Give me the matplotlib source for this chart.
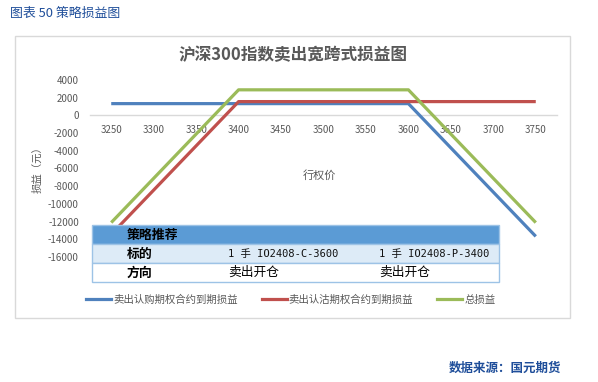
import matplotlib
matplotlib.use("Agg")
import matplotlib.pyplot as plt
from matplotlib.patches import Rectangle
from matplotlib.lines import Line2D

plt.rcParams['font.family'] = ['Noto Sans CJK SC', 'DejaVu Sans']

# data
strikes = [3250, 3300, 3350, 3400, 3450, 3500, 3550, 3600, 3650, 3700, 3750]
call_pnl = [1330, 1330, 1330, 1330, 1330, 1330, 1330, 1330, -3670, -8670, -13670]
put_pnl = [-13440, -8440, -3440, 1560, 1560, 1560, 1560, 1560, 1560, 1560, 1560]
total_pnl = [-12110, -7110, -2110, 2890, 2890, 2890, 2890, 2890, -2110, -7110, -12110]
y_ticks = [4000, 2000, 0, -2000, -4000, -6000, -8000, -10000, -12000, -14000, -16000]
series_names = ['卖出认购期权合约到期损益', '卖出认沽期权合约到期损益', '总损益']
colors = ['#4f81bd', '#c0504d', '#9bbb59']

table_rows = [
    ['策略推荐', '', ''],
    ['标的', '1 手 IO2408-C-3600', '1 手 IO2408-P-3400'],
    ['方向', '卖出开仓', '卖出开仓'],
]

W, H = 598, 382


def fx(px):
    return px / W


def fy(py):
    return 1 - py / H


fig = plt.figure(figsize=(W / 100, H / 100), dpi=100)

# chart frame
fig.add_artist(Rectangle((fx(15), fy(318)), fx(570) - fx(15), fy(36) - fy(318),
                         transform=fig.transFigure, fill=False,
                         edgecolor='#d9d9d9', lw=1))

ax = fig.add_axes([fx(90), fy(257), (557 - 90) / W, (257 - 80) / H])
for s, c in zip([call_pnl, put_pnl, total_pnl], colors):
    ax.plot(strikes, s, color=c, lw=2.3, solid_capstyle='butt', zorder=3)

ax.set_xlim(3225, 3775)
ax.set_ylim(-16000, 4000)
ax.set_xticks(strikes)
ax.set_yticks(y_ticks)
ax.set_yticklabels([str(v) for v in y_ticks])
for sp in ['top', 'right', 'left']:
    ax.spines[sp].set_visible(False)
ax.spines['bottom'].set_position(('data', 0))
ax.spines['bottom'].set_color('#d9d9d9')
ax.spines['bottom'].set_linewidth(1)
ax.tick_params(axis='x', length=0, pad=7, labelsize=7, labelcolor='#595959')
ax.tick_params(axis='y', length=0, pad=8, labelsize=7, labelcolor='#595959')
ax.patch.set_visible(False)

# titles and axis labels
fig.text(fx(293), fy(55), '沪深300指数卖出宽跨式损益图', ha='center', va='center',
         fontsize=12, fontweight='bold', color='#595959')
fig.text(fx(37), fy(167), '损益（元）', ha='center', va='center', rotation=90,
         fontsize=7.5, color='#595959')
fig.text(fx(319), fy(175), '行权价', ha='center', va='center',
         fontsize=8, color='#595959')
fig.text(fx(10), fy(13), '图表 50 策略损益图', ha='left', va='center',
         fontsize=9.3, color='#1f4e9a')
fig.text(fx(561), fy(368), '数据来源：国元期货', ha='right', va='center',
         fontsize=9, color='#1f4e9a', fontweight='bold')

# strategy table
row_edges = [225, 244, 263, 282]
row_bg = ['#5b9bd5', '#ddebf7', '#ffffff']
col_x = [127, 228, 379]
tx0, tx1 = 92, 499
for i, row in enumerate(table_rows):
    top, bot = row_edges[i], row_edges[i + 1]
    fig.add_artist(Rectangle((fx(tx0), fy(bot)), fx(tx1) - fx(tx0), fy(top) - fy(bot),
                             transform=fig.transFigure, facecolor=row_bg[i],
                             edgecolor='#9dc3e6', lw=1, zorder=5))
    yc = fy((top + bot) / 2)
    for j, txt in enumerate(row):
        if not txt:
            continue
        if j == 0:
            fig.text(fx(col_x[j]), yc, txt, ha='left', va='center', fontsize=9.3,
                     fontweight='bold', color='black', zorder=6)
        elif txt.startswith('1'):
            fig.text(fx(col_x[j]), yc, txt, ha='left', va='center', fontsize=7.5,
                     family=['DejaVu Sans Mono', 'Noto Sans CJK SC'],
                     color='#111111', zorder=6)
        else:
            fig.text(fx(col_x[j]), yc, txt, ha='left', va='center', fontsize=9.2,
                     color='black', zorder=6)

# legend
handles = [Line2D([], [], color=c, lw=2.3) for c in colors]
fig.legend(handles, series_names, loc='center left',
           bbox_to_anchor=(fx(86), fy(300)), ncol=3, frameon=False,
           fontsize=7.5, labelcolor='#595959', handlelength=2.4,
           handletextpad=0.2, columnspacing=2.3, borderpad=0, borderaxespad=0)

fig.savefig('out.png', dpi=100)
